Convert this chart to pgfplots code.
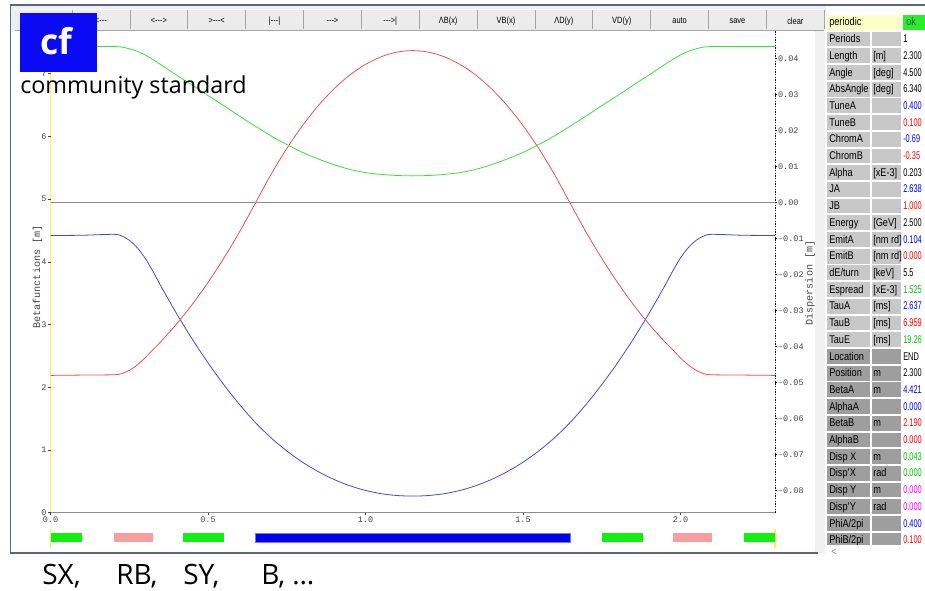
\documentclass[border=0pt]{standalone}
\usepackage{fontspec}
\setmainfont{Liberation Sans}
\newfontfamily\monofont{Liberation Mono}
\newfontfamily\narrowfont[FakeStretch=0.82]{Liberation Sans}
\newfontfamily\valfont[FakeStretch=0.66]{Liberation Sans}
\newfontfamily\annfont{Open Sans}
\usepackage{pgfplots}
\pgfplotsset{compat=1.18}
\usepackage{pgfplotstable}

\definecolor{betaA}{RGB}{70,70,225}
\definecolor{betaB}{RGB}{232,82,82}
\definecolor{dispX}{RGB}{60,222,60}
\definecolor{zeroline}{RGB}{140,140,140}
\definecolor{framec}{RGB}{88,104,128}
\definecolor{winbg}{RGB}{240,240,240}
\definecolor{tbbg}{RGB}{236,236,236}
\definecolor{sepc}{RGB}{165,165,165}
\definecolor{ylw}{RGB}{245,245,80}
\definecolor{sxg}{RGB}{17,240,17}
\definecolor{rbp}{RGB}{247,158,158}
\definecolor{bbl}{RGB}{0,0,235}
\definecolor{cfblue}{RGB}{10,10,245}
\definecolor{cellA}{RGB}{200,200,200}
\definecolor{cellB}{RGB}{158,158,158}
\definecolor{cellY}{RGB}{255,255,200}
\definecolor{okg}{RGB}{40,240,40}
\definecolor{vblue}{RGB}{0,0,255}
\definecolor{vred}{RGB}{255,0,0}
\definecolor{vgreen}{RGB}{0,200,0}
\definecolor{vmag}{RGB}{255,0,255}
\definecolor{ticktxt}{RGB}{70,70,70}

\newcommand{\tickfont}{\monofont\fontsize{6.4}{7}\selectfont}
\newcommand{\labfont}{\monofont\fontsize{7.6}{8}\selectfont}
\newcommand{\tabfont}{\narrowfont\fontsize{8.4}{9}\selectfont}
\newcommand{\valsize}{\valfont\fontsize{8.4}{9}\selectfont}
\newcommand{\tbfont}{\narrowfont\fontsize{6.8}{7}\selectfont}
\newcommand{\hy}{-\kern0pt}

% s [m], beta A [m], beta B [m], dispersion [m]
\pgfplotstableread{
s bA bB D
0 4.421 2.190 0.0433
0.1 4.425 2.195 0.0433
0.2 4.440 2.200 0.0433
0.225 4.416 2.217 0.0432
0.25 4.346 2.270 0.0427
0.275 4.228 2.355 0.0420
0.3 4.063 2.468 0.0410
0.325 3.851 2.600 0.0397
0.35 3.618 2.727 0.0383
0.4 3.178 3.007 0.0354
0.45 2.768 3.322 0.0326
0.5 2.390 3.672 0.0297
0.55 2.042 4.058 0.0269
0.6 1.726 4.478 0.0240
0.65 1.440 4.933 0.0212
0.7 1.195 5.394 0.0185
0.75 0.985 5.808 0.0161
0.8 0.805 6.174 0.0139
0.85 0.655 6.492 0.0121
0.9 0.530 6.760 0.0105
0.95 0.430 6.980 0.0092
1.0 0.355 7.150 0.0083
1.05 0.303 7.272 0.0078
1.1 0.274 7.346 0.0075
1.15 0.265 7.370 0.0074
1.2 0.274 7.346 0.0075
1.25 0.303 7.272 0.0078
1.3 0.355 7.150 0.0083
1.35 0.430 6.980 0.0092
1.4 0.530 6.760 0.0105
1.45 0.655 6.492 0.0121
1.5 0.805 6.174 0.0139
1.55 0.985 5.808 0.0161
1.6 1.195 5.394 0.0185
1.65 1.440 4.933 0.0212
1.7 1.726 4.478 0.0240
1.75 2.042 4.058 0.0269
1.8 2.390 3.672 0.0297
1.85 2.768 3.322 0.0326
1.9 3.178 3.007 0.0354
1.95 3.618 2.727 0.0383
1.975 3.851 2.600 0.0397
2.0 4.063 2.468 0.0410
2.025 4.228 2.355 0.0420
2.05 4.346 2.270 0.0427
2.075 4.416 2.217 0.0432
2.1 4.440 2.200 0.0433
2.2 4.425 2.195 0.0433
2.3 4.421 2.190 0.0433
}\lattice

\newcommand{\trow}[6]{%
  \fill[#6] (827,{15+16.7*#1}) rectangle (870,{29.8+16.7*#1});
  \fill[#6] (871.5,{15+16.7*#1}) rectangle (901,{29.8+16.7*#1});
  \node[anchor=base west, inner sep=0pt, font=\tabfont] at (829,{26+16.7*#1}) {#2};
  \node[anchor=base west, inner sep=0pt, font=\tabfont] at (873,{26+16.7*#1}) {#3};
  \node[anchor=base west, inner sep=0pt, font=\valsize, text=#5] at (903,{26+16.7*#1}) {#4};
}

\begin{document}
\begin{tikzpicture}
\path[use as bounding box] (0,0) rectangle (693.75pt,442.5pt);
\begin{scope}[x=0.75pt,y=-0.75pt,shift={(0pt,442.5pt)}]
  \fill[white] (0,0) rectangle (925,590);
  \fill[winbg] (10,5) rectangle (826,553);
  \fill[white] (11,30) rectangle (815,552);
  \fill[white] (825,13) rectangle (925,545);
  \draw[framec, line width=1.1pt] (925,5) -- (10.5,5) -- (10.5,553) -- (818,553);
  % position markers
  \draw[ylw, line width=0.8pt] (50.5,30.5) -- (50.5,513);
  \draw[ylw, line width=0.8pt] (50.5,529) -- (50.5,548);
  \draw[ylw, line width=0.8pt] (775,529) -- (775,548);
\end{scope}

% beta functions (left axis)
\begin{axis}[
  at={(37.875pt,57.975pt)}, anchor=south west,
  scale only axis, width=543.375pt, height=361.65pt,
  xmin=0, xmax=2.3, ymin=0, ymax=7.6906,
  axis x line*=bottom, axis y line*=left,
  x axis line style={draw=zeroline, line width=1.1pt, -},
  y axis line style={draw=none, -},
  xtick={0,0.5,1,1.5,2}, xticklabels={0.0,0.5,1.0,1.5,2.0},
  ytick={0,1,2,3,4,5,6,7}, yticklabels={0,1,2,3,4,5,6,7},
  tick align=outside, major tick length=1.6pt,
  tick style={draw=ticktxt, line width=0.5pt},
  ticklabel style={font=\tickfont, text=ticktxt},
  xticklabel style={inner sep=1.5pt},
  yticklabel style={inner sep=1.2pt},
  scaled ticks=false,
]
\addplot[betaA, line width=0.6pt, smooth, tension=0.5] table[x=s,y=bA] {\lattice};
\addplot[betaB, line width=0.6pt, smooth, tension=0.5] table[x=s,y=bB] {\lattice};
\end{axis}

% dispersion (right axis)
\begin{axis}[
  at={(37.875pt,57.975pt)}, anchor=south west,
  scale only axis, width=543.375pt, height=361.65pt,
  xmin=0, xmax=2.3, ymin=-0.086167, ymax=0.047778,
  axis x line=none, axis y line*=right,
  y axis line style={draw=black, line width=0.4pt, dash pattern=on 1pt off 1pt, -},
  xtick=\empty,
  ytick={-0.08,-0.07,-0.06,-0.05,-0.04,-0.03,-0.02,-0.01,0,0.01,0.02,0.03,0.04},
  yticklabels={-0.08,-0.07,-0.06,-0.05,-0.04,-0.03,-0.02,-0.01,0.00,0.01,0.02,0.03,0.04},
  tick align=outside, major tick length=1.5pt,
  tick style={draw=black, line width=0.4pt},
  ticklabel style={font=\tickfont, text=ticktxt},
  yticklabel style={inner sep=0.6pt},
  scaled ticks=false,
]
\addplot[zeroline, line width=1.1pt] coordinates {(0,0) (2.3,0)};
\addplot[dispX, line width=0.6pt, smooth, tension=0.5] table[x=s,y=D] {\lattice};
\end{axis}

% lattice elements
\begin{axis}[
  at={(37.875pt,36pt)}, anchor=south west,
  scale only axis, width=543.375pt, height=6.75pt,
  xmin=0, xmax=2.3, ymin=0, ymax=1, hide axis,
]
\addplot[fill=sxg, draw=none] coordinates {(0,1) (0.1,1)} \closedcycle;
\addplot[fill=rbp, draw=none] coordinates {(0.2,1) (0.325,1)} \closedcycle;
\addplot[fill=sxg, draw=none] coordinates {(0.42,1) (0.55,1)} \closedcycle;
\addplot[fill=bbl, draw=blue!55!white, line width=0.4pt] coordinates {(0.65,1) (1.65,1)} \closedcycle;
\addplot[fill=sxg, draw=none] coordinates {(1.75,1) (1.88,1)} \closedcycle;
\addplot[fill=rbp, draw=none] coordinates {(1.975,1) (2.1,1)} \closedcycle;
\addplot[fill=sxg, draw=none] coordinates {(2.2,1) (2.3,1)} \closedcycle;
\end{axis}

\begin{scope}[x=0.75pt,y=-0.75pt,shift={(0pt,442.5pt)}]
  % axis titles
  \node[rotate=90, font=\labfont, text=ticktxt, inner sep=0pt] at (37.5,277) {Betafunctions [m]};
  \node[rotate=90, font=\labfont, text=ticktxt, inner sep=0pt] at (810,283) {Dispersion [m]};
  % toolbar
  \fill[tbbg] (15,9) rectangle (824,30);
  \draw[white, line width=0.6pt] (15,9.5) -- (824,9.5);
  \draw[sepc, line width=0.7pt] (15,30) -- (824,30);
  \foreach \k in {0,...,13} \draw[sepc, line width=0.6pt] ({72.1+57.86*\k},10) -- ({72.1+57.86*\k},29);
  \foreach \k/\t in {0/{<\hy\hy\hy}, 1/{<\hy\hy\hy>}, 2/{>\hy\hy\hy<}, 3/{|\hy\hy\hy|}, 4/{\hy\hy\hy>}, 5/{\hy\hy\hy>|},
      6/{ΛB(x)}, 7/{VB(x)}, 8/{ΛD(y)}, 9/{VD(y)}, 10/{auto}, 11/{save}, 12/{clear}}
    \node[font=\tbfont, inner sep=0pt] at ({101+57.86*\k},21) {\t};
  % badge and notes
  \fill[cfblue] (20,12.7) rectangle (97,71.7);
  \node[anchor=base, inner sep=0pt, text=white, font=\annfont\bfseries\fontsize{26.6}{28}\selectfont] at (56,55) {cf};
  \node[anchor=base west, inner sep=0pt, font=\annfont\fontsize{17.5}{19}\selectfont] at (20,94) {community standard};
  \node[anchor=base west, inner sep=0pt, font=\annfont\fontsize{21}{23}\selectfont] at (42,584.3) {SX,};
  \node[anchor=base west, inner sep=0pt, font=\annfont\fontsize{21}{23}\selectfont] at (116,584.3) {RB,};
  \node[anchor=base west, inner sep=0pt, font=\annfont\fontsize{21}{23}\selectfont] at (183,584.3) {SY,};
  \node[anchor=base west, inner sep=0pt, font=\annfont\fontsize{21}{23}\selectfont] at (261,584.3) {B, \dots};
  % parameter table
  \fill[cellY] (827,15) rectangle (901,29.8);
  \fill[okg] (902.5,15) rectangle (925,29.8);
  \node[anchor=base west, inner sep=0pt, font=\tabfont] at (829,26) {periodic};
  \node[anchor=base west, inner sep=0pt, font=\tabfont, text=black!70] at (906,26) {ok};
  \trow{1}{Periods}{}{1}{black}{cellA}
  \trow{2}{Length}{[m]}{2.300}{black}{cellA}
  \trow{3}{Angle}{[deg]}{4.500}{black}{cellA}
  \trow{4}{AbsAngle}{[deg]}{6.340}{black}{cellA}
  \trow{5}{TuneA}{}{0.400}{vblue}{cellA}
  \trow{6}{TuneB}{}{0.100}{vred}{cellA}
  \trow{7}{ChromA}{}{-0.69}{vblue}{cellA}
  \trow{8}{ChromB}{}{-0.35}{vred}{cellA}
  \trow{9}{Alpha}{[xE-3]}{0.203}{black}{cellA}
  \trow{10}{JA}{}{2.638}{vblue}{cellA}
  \trow{11}{JB}{}{1.000}{vred}{cellA}
  \trow{12}{Energy}{[GeV]}{2.500}{black}{cellA}
  \trow{13}{EmitA}{[nm rd]}{0.104}{vblue}{cellA}
  \trow{14}{EmitB}{[nm rd]}{0.000}{vred}{cellA}
  \trow{15}{dE/turn}{[keV]}{5.5}{black}{cellA}
  \trow{16}{Espread}{[xE-3]}{1.525}{vgreen}{cellA}
  \trow{17}{TauA}{[ms]}{2.637}{vblue}{cellA}
  \trow{18}{TauB}{[ms]}{6.959}{vred}{cellA}
  \trow{19}{TauE}{[ms]}{19.26}{vgreen}{cellA}
  \trow{20}{Location}{}{END}{black}{cellB}
  \trow{21}{Position}{m}{2.300}{black}{cellB}
  \trow{22}{BetaA}{m}{4.421}{vblue}{cellB}
  \trow{23}{AlphaA}{}{0.000}{vblue}{cellB}
  \trow{24}{BetaB}{m}{2.190}{vred}{cellB}
  \trow{25}{AlphaB}{}{0.000}{vred}{cellB}
  \trow{26}{Disp X}{m}{0.043}{vgreen}{cellB}
  \trow{27}{Disp\textquotesingle X}{rad}{0.000}{vgreen}{cellB}
  \trow{28}{Disp Y}{m}{0.000}{vmag}{cellB}
  \trow{29}{Disp\textquotesingle Y}{rad}{0.000}{vmag}{cellB}
  \trow{30}{PhiA/2pi}{}{0.400}{vblue}{cellB}
  \trow{31}{PhiB/2pi}{}{0.100}{vred}{cellB}
  \fill[white] (825,545) rectangle (925,560);
  \node[font=\tabfont, text=black!45, inner sep=0pt] at (834,552) {<};
\end{scope}
\end{tikzpicture}
\end{document}
